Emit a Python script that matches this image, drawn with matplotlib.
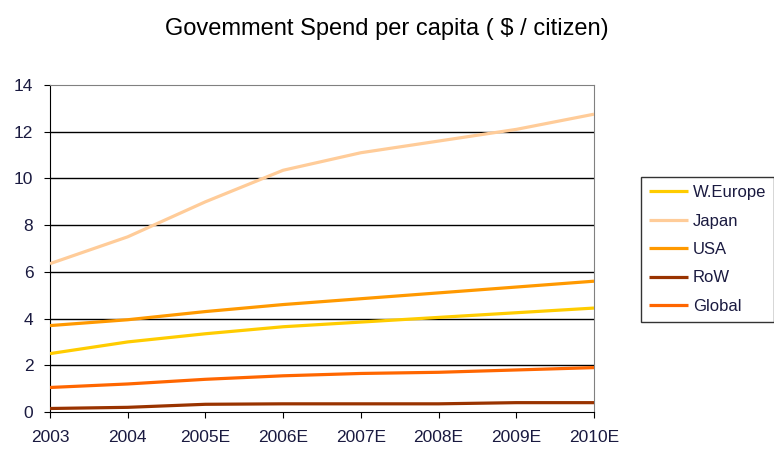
import matplotlib
matplotlib.use("Agg")
import matplotlib.pyplot as plt

years = ["2003", "2004", "2005E", "2006E", "2007E", "2008E", "2009E", "2010E"]
weurope = [2.5, 3.0, 3.35, 3.65, 3.85, 4.05, 4.25, 4.45]
japan = [6.35, 7.5, 9.0, 10.35, 11.1, 11.6, 12.1, 12.75]
usa = [3.7, 3.95, 4.3, 4.6, 4.85, 5.1, 5.35, 5.6]
row = [0.15, 0.2, 0.33, 0.35, 0.35, 0.35, 0.4, 0.4]
glob = [1.05, 1.2, 1.4, 1.55, 1.65, 1.7, 1.8, 1.9]

series = [
    ("W.Europe", weurope, "#FFCC00"),
    ("Japan", japan, "#FFCC99"),
    ("USA", usa, "#FF9900"),
    ("RoW", row, "#993300"),
    ("Global", glob, "#FF6600"),
]

plt.rcParams['font.family'] = ['Liberation Sans', 'DejaVu Sans']

fig = plt.figure(figsize=(7.74, 4.49), dpi=100)
ax = fig.add_axes([50/774, 1-412/449, (594-50)/774, (412-85)/449])

x = list(range(len(years)))
for name, vals, col in series:
    ax.plot(x, vals, color=col, lw=2.3, label=name, solid_capstyle='butt', zorder=3)

ax.set_xlim(0, len(years)-1)
ax.set_ylim(0, 14)
ax.set_yticks(range(0, 15, 2))
ax.set_xticks(x)
ax.set_xticklabels(years)
for yv in range(2, 14, 2):
    ax.axhline(yv, color='black', lw=1.0, zorder=1)

ax.spines['top'].set_color('#808080')
ax.spines['right'].set_color('#808080')
ax.spines['left'].set_color('black')
ax.spines['bottom'].set_color('black')
ax.tick_params(axis='both', colors='black', labelcolor='#1a1a40', labelsize=12.5, length=4, direction='out')
ax.tick_params(axis='x', pad=9)
ax.tick_params(axis='y', pad=8)

fig.text(387/774, 1-29/449, "Govemment Spend per capita ( $ / citizen)", ha='center', va='center',
         fontsize=17, color='black')

leg = fig.legend(loc='upper left', bbox_to_anchor=(641/774, 1-177/449), frameon=True, fancybox=False,
                 edgecolor='black', fontsize=12, handlelength=2.3, handletextpad=0.3,
                 labelspacing=0.8, borderpad=0.5, borderaxespad=0)
leg.get_frame().set_linewidth(1.0)
for t in leg.get_texts():
    t.set_color('#1a1a40')

fig.savefig("out.png", dpi=100)
